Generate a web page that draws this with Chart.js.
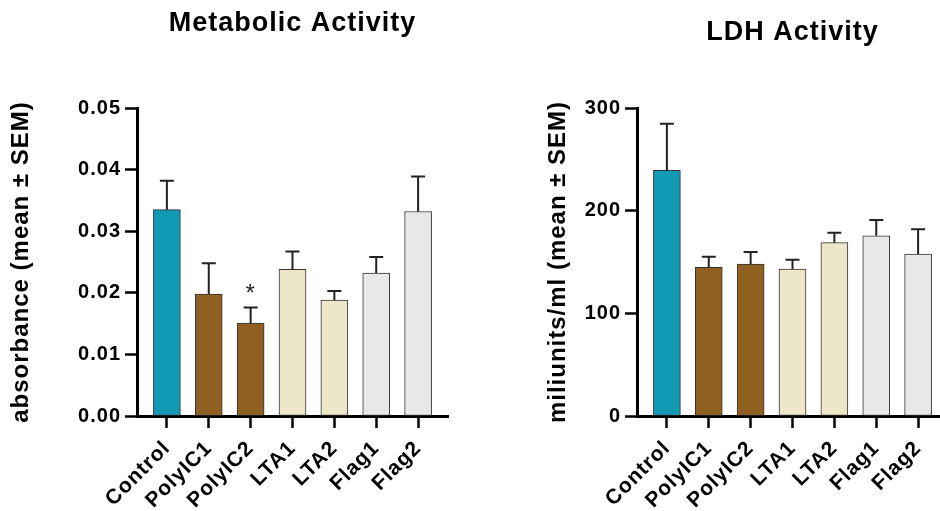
<!DOCTYPE html>
<html><head><meta charset="utf-8">
<script src="https://cdn.jsdelivr.net/npm/chart.js@4.4.0/dist/chart.umd.min.js"></script>
<style>
html,body{margin:0;padding:0;width:940px;height:511px;overflow:hidden;background:#fff}
.box{position:absolute;top:0;width:470px;height:511px}
</style></head><body>
<div class="box" style="left:0"><canvas id="c1" width="470" height="511"></canvas></div>
<div class="box" style="left:500px"><canvas id="c2" width="470" height="511"></canvas></div>
<script>
const categories = ['Control','PolyIC1','PolyIC2','LTA1','LTA2','Flag1','Flag2'];
const barColors = ['#1299b4','#8f6020','#8f6020','#ede6c9','#ede6c9','#e8e8e8','#e8e8e8'];

const metabolicTitle = 'Metabolic Activity';
const metabolicAxis = 'absorbance (mean \u00b1 SEM)';
const metabolicMean = [0.0335,0.0198,0.0151,0.0238,0.0188,0.0232,0.0332];
const metabolicSEM  = [0.0047,0.0050,0.0025,0.0029,0.0015,0.0026,0.0057];
const metabolicMarks = ['','','*','','','',''];
const metabolicTicks = [0,0.01,0.02,0.03,0.04,0.05];

const ldhTitle = 'LDH Activity';
const ldhAxis = 'miliunits/ml (mean \u00b1 SEM)';
const ldhMean = [239.3,144.8,148.0,143.2,168.8,175.6,157.8];
const ldhSEM  = [45.4,10.4,11.7,9.1,9.7,15.3,24.0];
const ldhMarks = ['','','','','','',''];
const ldhTicks = [0,100,200,300];

const FONT = '"Liberation Sans", Arial, sans-serif';

function makeChart(id, title, axisTitle, means, sems, marks, yTicks, fmt, yTitlePad, titleY) {
  const spacing = {
    id: 'spacing',
    beforeUpdate(c){ c.ctx.letterSpacing = '1px'; },
    beforeDraw(c){ c.ctx.letterSpacing = '1px'; }
  };
  const extras = {
    id: 'extras',
    afterDatasetsDraw(chart) {
      const {ctx, scales: {x, y}, chartArea} = chart;
      ctx.save();
      ctx.strokeStyle = '#222';
      ctx.lineWidth = 2;
      means.forEach((m, i) => {
        const px = x.getPixelForValue(i);
        const y0 = y.getPixelForValue(m);
        const y1 = y.getPixelForValue(m + sems[i]);
        ctx.beginPath();
        ctx.moveTo(px, y0); ctx.lineTo(px, y1);
        ctx.moveTo(px - 7, y1); ctx.lineTo(px + 7, y1);
        ctx.stroke();
        if (marks[i]) {
          ctx.fillStyle = '#222';
          ctx.font = '24px ' + FONT;
          ctx.textAlign = 'center';
          ctx.textBaseline = 'alphabetic';
          ctx.fillText(marks[i], px, y1 - 7);
        }
      });
      ctx.fillStyle = '#000';
      ctx.font = 'bold 27px ' + FONT;
      ctx.textAlign = 'center';
      ctx.textBaseline = 'middle';
      ctx.fillText(title, (chartArea.left + chartArea.right) / 2, titleY);
      ctx.restore();
    }
  };
  return new Chart(document.getElementById(id), {
    type: 'bar',
    data: {
      datasets: [{
        data: means.map((v, i) => ({x: i, y: v})),
        backgroundColor: barColors,
        borderColor: '#333',
        borderWidth: 1,
        borderSkipped: false,
        barThickness: 27
      }]
    },
    options: {
      responsive: false,
      animation: false,
      layout: {padding: {top: 108, right: 22, bottom: 0, left: 0}},
      plugins: {legend: {display: false}, tooltip: {enabled: false}},
      scales: {
        x: {
          type: 'linear',
          min: -0.714, max: 6.714,
          offset: false,
          afterBuildTicks(s) { s.ticks = categories.map((c, i) => ({value: i})); },
          afterFit(s) { s.height = 95; },
          ticks: {
            autoSkip: false, maxRotation: 45, minRotation: 45, padding: 8,
            color: '#000', font: {family: FONT, size: 21, weight: 'bold'},
            callback: (v) => categories[v]
          },
          grid: {drawOnChartArea: false, offset: false, tickLength: 12, tickWidth: 2.5, tickColor: '#000'},
          border: {display: true, color: '#000', width: 3}
        },
        y: {
          min: yTicks[0], max: yTicks[yTicks.length - 1],
          afterBuildTicks(s) { s.ticks = yTicks.map(v => ({value: v})); },
          afterFit(s) { s.width = 137; },
          ticks: {
            padding: 4, color: '#000', font: {family: FONT, size: 20, weight: 'bold'},
            callback: fmt
          },
          title: {
            display: true, text: axisTitle, color: '#000',
            font: {family: FONT, size: 24, weight: 'bold'},
            padding: {top: yTitlePad, bottom: 0}
          },
          grid: {drawOnChartArea: false, tickLength: 12, tickWidth: 2.5, tickColor: '#000'},
          border: {display: true, color: '#000', width: 3}
        }
      }
    },
    plugins: [spacing, extras]
  });
}

makeChart('c1', metabolicTitle, metabolicAxis, metabolicMean, metabolicSEM, metabolicMarks,
  metabolicTicks, v => Number(v).toFixed(2), 7, 24);
makeChart('c2', ldhTitle, ldhAxis, ldhMean, ldhSEM, ldhMarks,
  ldhTicks, v => String(v), 44, 33);
</script>
</body></html>
